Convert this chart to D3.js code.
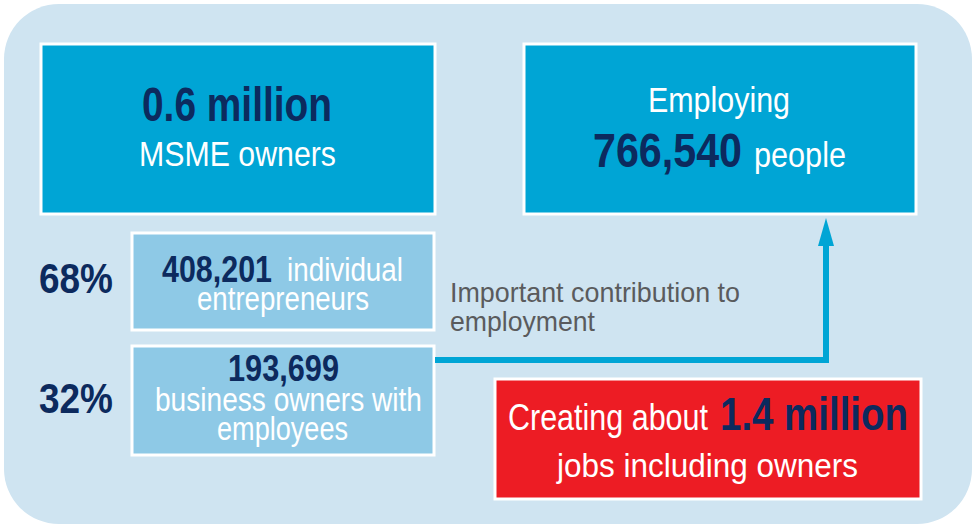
<!DOCTYPE html>
<html>
<head>
<meta charset="utf-8">
<script src="https://cdn.jsdelivr.net/npm/d3@7"></script>
<style>
  html, body { margin: 0; padding: 0; background: #ffffff; }
  svg { display: block; }
  text { font-family: "Liberation Sans", Arial, sans-serif; }
</style>
</head>
<body>
<div id="chart"></div>
<script>
// ---- data ----
const totalOwners = ["0.6 million", "MSME owners"];
const employing = ["Employing", "766,540", "people"];
const shares = ["68%", "32%"];
const segmentValues = ["408,201", "193,699"];
const segmentLabels = [["individual", "entrepreneurs"], ["business owners with", "employees"]];
const note = ["Important contribution to", "employment"];
const jobs = ["Creating about", "1.4 million", "jobs including owners"];

// ---- layout ----
const W = 977, H = 526;
const NAVY = "#0c2a5e", CYAN = "#00a5d5", LIGHT = "#8ec9e6", BG = "#cfe4f1", RED = "#ed1c24", GREY = "#5a5b5d", WHITE = "#ffffff";

const svg = d3.select("#chart").append("svg").attr("width", W).attr("height", H);

// background panel with rounded corners
svg.append("rect").attr("x", 4).attr("y", 4).attr("width", 968).attr("height", 520)
  .attr("rx", 55).attr("ry", 55).attr("fill", BG);

function box(x, y, w, h, fill) {
  svg.append("rect").attr("x", x).attr("y", y).attr("width", w).attr("height", h)
    .attr("fill", fill).attr("stroke", WHITE).attr("stroke-width", 3);
}

box(41, 44, 394, 170, CYAN);
box(524, 44, 392, 170, CYAN);
box(132, 233, 302, 97, LIGHT);
box(132, 346, 302, 109, LIGHT);
box(495, 379, 426, 120, RED);

// connector line + arrow
const conn = d3.line();
svg.append("path").attr("d", conn([[435, 360], [826, 360], [826, 242]]))
  .attr("fill", "none").attr("stroke", CYAN).attr("stroke-width", 6);
svg.append("path").attr("d", conn([[818, 246], [826, 218], [834, 246]]) + "Z").attr("fill", CYAN);

// condensed-style label: fitted between x1 and x2
function label(str, x1, x2, baseline, size, fill, bold) {
  return svg.append("text")
    .attr("x", x1).attr("y", baseline)
    .attr("font-size", size).attr("fill", fill)
    .attr("font-weight", bold ? "bold" : "normal")
    .attr("textLength", x2 - x1).attr("lengthAdjust", "spacingAndGlyphs")
    .text(str);
}

// box 1
label(totalOwners[0], 142, 332, 121, 48, NAVY, true);
label(totalOwners[1], 139, 336, 166, 35, WHITE, false);

// box 2
label(employing[0], 648, 790, 112, 35, WHITE, false);
label(employing[1], 593, 742, 167, 49, NAVY, true);
label(employing[2], 754, 846, 167, 35, WHITE, false);

// shares
label(shares[0], 39, 113, 293, 43, NAVY, true);
label(shares[1], 39, 113, 413, 43, NAVY, true);

// segment 1
label(segmentValues[0], 162, 272, 282, 37, NAVY, true);
label(segmentLabels[0][0], 287, 403, 281, 33, WHITE, false);
label(segmentLabels[0][1], 197, 369, 310, 33, WHITE, false);

// segment 2
label(segmentValues[1], 228, 339, 381, 37, NAVY, true);
label(segmentLabels[1][0], 155, 422, 411, 33, WHITE, false);
label(segmentLabels[1][1], 217, 348, 440, 33, WHITE, false);

// note
label(note[0], 450, 740, 302, 28, GREY, false);
label(note[1], 450, 595, 331, 28, GREY, false);

// jobs box
label(jobs[0], 508, 708, 430, 36, WHITE, false);
label(jobs[1], 720, 908, 430, 46, NAVY, true);
label(jobs[2], 557, 858, 477, 34, WHITE, false);
</script>
</body>
</html>
